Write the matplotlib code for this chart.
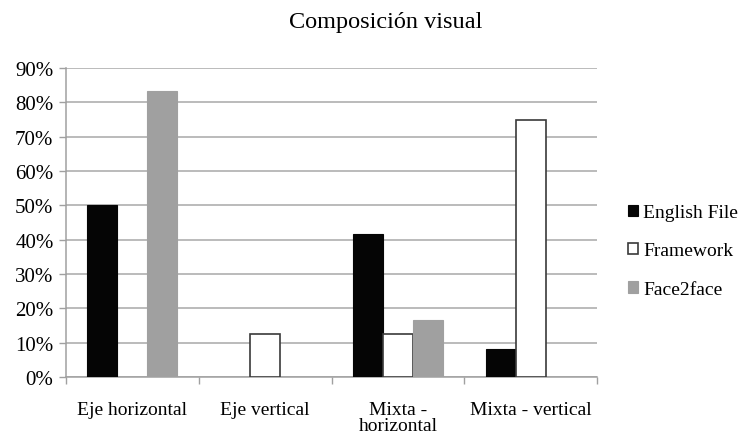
import matplotlib
matplotlib.use("Agg")
import matplotlib.pyplot as plt
import numpy as np
from matplotlib.patches import Patch
from matplotlib.ticker import FuncFormatter

categories = ["Eje horizontal", "Eje vertical", "Mixta -\nhorizontal", "Mixta - vertical"]
series_names = ["English File", "Framework", "Face2face"]
english_file = [50.0, 0.0, 41.7, 8.3]
framework = [0.0, 12.5, 12.5, 75.0]
face2face = [83.3, 0.0, 16.7, 0.0]
yticks = [0, 10, 20, 30, 40, 50, 60, 70, 80, 90]

plt.rcParams['font.family'] = ['Liberation Serif', 'DejaVu Serif']

fig = plt.figure(figsize=(7.51, 4.39), dpi=100)
ax = fig.add_axes([66/751, 1-378/439, (597-66)/751, (378-69)/439])

x = np.arange(len(categories))
w = 0.226
styles = [
    dict(facecolor="#050505", edgecolor="#050505", linewidth=0.8),
    dict(facecolor="white", edgecolor="#3a3a3a", linewidth=1.2),
    dict(facecolor="#a0a0a0", edgecolor="#a0a0a0", linewidth=0.8),
]
data = [english_file, framework, face2face]
for i, (vals, st) in enumerate(zip(data, styles)):
    v = np.array(vals)
    mask = v > 0
    ax.bar(x[mask] + (i - 1) * w, v[mask], width=w, zorder=3, **st)

ax.set_xlim(-0.5, len(categories) - 0.5)
ax.set_ylim(0, 90)
ax.set_yticks(yticks)
ax.yaxis.set_major_formatter(FuncFormatter(lambda v, p: f"{int(v)}%"))
ax.grid(axis="y", color="#a8a8a8", linewidth=1.1, zorder=0)
ax.set_axisbelow(True)

for s in ["top", "right"]:
    ax.spines[s].set_visible(False)
for s in ["left", "bottom"]:
    ax.spines[s].set_color("#a0a0a0")
    ax.spines[s].set_linewidth(1.1)

ax.set_xticks(np.arange(len(categories) + 1) - 0.5, minor=False)
ax.set_xticklabels([])
ax.tick_params(axis="x", which="major", length=5, color="#a0a0a0", width=1.0)
ax.set_xticks(x, minor=True)
ax.set_xticklabels(categories, minor=True, fontsize=14, linespacing=0.95)
ax.tick_params(axis="x", which="minor", length=0, pad=17)
ax.tick_params(axis="y", length=5, color="#a0a0a0", width=1.0, labelsize=15, pad=4)

fig.text(0.514, 0.948, "Composición visual", ha="center", va="center", fontsize=17.5)

handles = [Patch(**st) for st in styles]
fig.legend(handles, series_names, loc="center left", bbox_to_anchor=(0.836, 0.426),
           frameon=False, fontsize=14, handlelength=0.5, handleheight=0.5,
           handletextpad=0.3, labelspacing=1.1, borderaxespad=0, borderpad=0)

fig.savefig("out.png", dpi=100)
